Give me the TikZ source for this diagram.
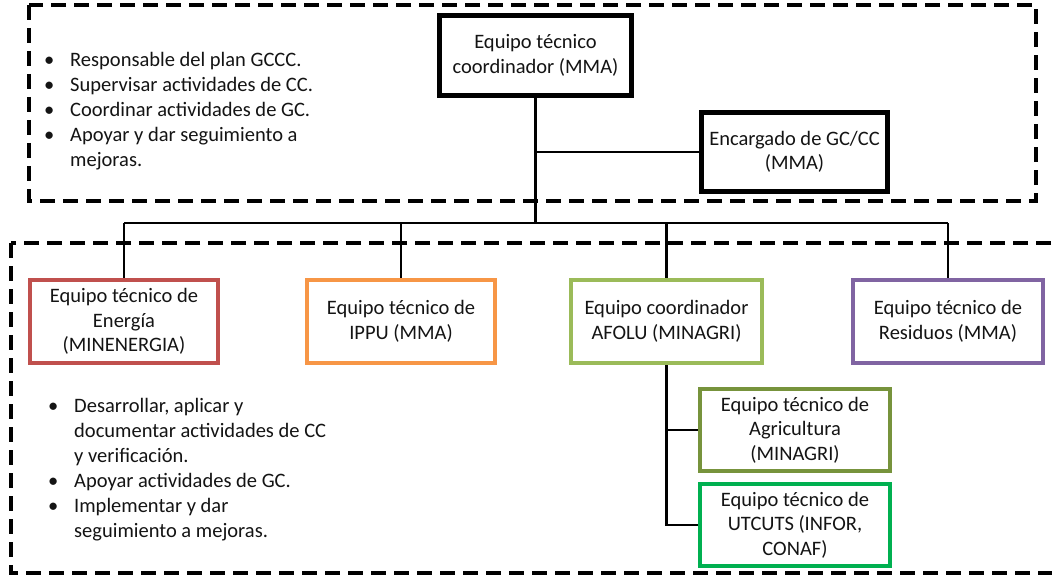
\documentclass[tikz,border=0pt]{standalone}
\usepackage{fontspec}
\setmainfont{Carlito}
\definecolor{txt}{HTML}{141414}
\definecolor{cred}{HTML}{C0504D}
\definecolor{corange}{HTML}{F79646}
\definecolor{cgreen}{HTML}{9BBB59}
\definecolor{cpurple}{HTML}{8064A2}
\definecolor{colive}{HTML}{77933C}
\definecolor{cbright}{HTML}{00B050}
\tikzset{
  box/.style={draw=#1, line width=4.5pt, fill=white, align=center, text=txt,
    font=\fontsize{20.5}{24.5}\selectfont, inner sep=1pt},
  topbox/.style={box=black, line width=5pt},
  conn/.style={draw=black, line width=2.5pt},
  dashbox/.style={draw=black, line width=3.8pt, dash pattern=on 15pt off 8pt},
  bullets/.style={anchor=base west, inner sep=0pt, text=txt,
    font=\fontsize{20.5}{25}\selectfont}
}
\begin{document}
\begin{tikzpicture}[x=1pt,y=-1pt]
\useasboundingbox (0,0) rectangle (1052,575);
\clip (0,0) rectangle (1052,575);
\fill[white] (0,0) rectangle (1052,575);

% dashed regions
\draw[dashbox] (29,5) rectangle (1036,201);
\draw[dashbox] (11,243) rectangle (1075,573);

% nodes
\node[topbox, minimum width=192pt, minimum height=80pt] (top) at (535.5,55.5)
  {Equipo técnico\\coordinador (MMA)};
\node[topbox, minimum width=186pt, minimum height=79pt] (enc) at (794.5,152)
  {Encargado de GC/CC\\(MMA)};
\node[box=cred, minimum width=188pt, minimum height=83pt] (ene) at (124,321.5)
  {Equipo técnico de\\Energía\\(MINENERGIA)};
\node[box=corange, minimum width=188pt, minimum height=83pt] (ippu) at (401,321.5)
  {Equipo técnico de\\IPPU (MMA)};
\node[box=cgreen, minimum width=191pt, minimum height=83pt] (afolu) at (666.5,321.5)
  {Equipo coordinador\\AFOLU (MINAGRI)};
\node[box=cpurple, minimum width=190pt, minimum height=83pt] (res) at (948,321.5)
  {Equipo técnico de\\Residuos (MMA)};
\node[box=colive, minimum width=190pt, minimum height=82pt] (agri) at (795,430)
  {Equipo técnico de\\Agricultura\\(MINAGRI)};
\node[box=cbright, minimum width=190pt, minimum height=82pt] (utc) at (795,525)
  {Equipo técnico de\\UTCUTS (INFOR,\\CONAF)};

% connectors
\coordinate (bus) at (535.5,223);
\coordinate (busL) at (124,223);
\coordinate (busR) at (948,223);
\draw[conn] (top.south) -- (bus);
\draw[conn] (top.south |- enc.west) -- (enc.west);
\draw[conn] (busL) -- (busR);
\draw[conn] (busL) -- (ene.north);
\draw[conn] (bus -| ippu.north) -- (ippu.north);
\draw[conn] (bus -| afolu.north) -- (afolu.north);
\draw[conn] (busR) -- (res.north);
\draw[conn] (afolu.south) |- (agri.west);
\draw[conn] (afolu.south) |- (utc.west);

% bullet texts
\node[bullets] (ltop) at (44,67) {\begin{tabular}[t]{@{}p{26pt}@{}l@{}}
•& Responsable del plan GCCC.\\
•& Supervisar actividades de CC.\\
•& Coordinar actividades de GC.\\
•& Apoyar y dar seguimiento a\\
 & mejoras.
\end{tabular}};
\node[bullets] (lbot) at (48,412) {\begin{tabular}[t]{@{}p{26pt}@{}l@{}}
•& Desarrollar, aplicar y\\
 & documentar actividades de CC\\
 & y verificación.\\
•& Apoyar actividades de GC.\\
•& Implementar y dar\\
 & seguimiento a mejoras.
\end{tabular}};
\end{tikzpicture}
\end{document}
